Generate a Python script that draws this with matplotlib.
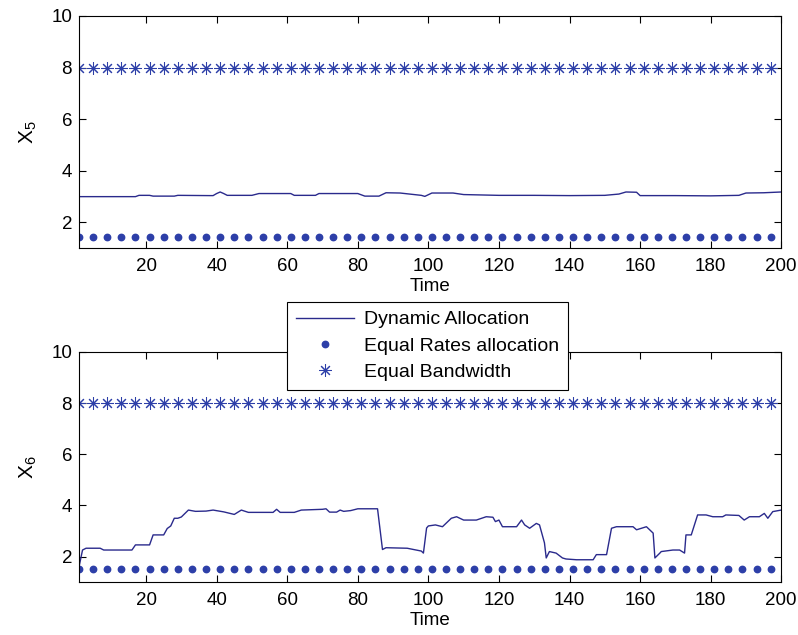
import numpy as np
import matplotlib
matplotlib.use('Agg')
import matplotlib.pyplot as plt

plt.rcParams['font.family'] = ['Liberation Sans', 'DejaVu Sans']
plt.rcParams['mathtext.fontset'] = 'custom'
plt.rcParams['mathtext.rm'] = 'Liberation Sans'

# marker positions (every 4th time step)
t_mark = np.arange(1, 200, 4)
equal_bw = 8.0
equal_rate_x5 = 1.43
equal_rate_x6 = 1.5

# dynamic allocation, X5
t5 = [1, 17, 18, 21, 22, 28, 29, 38, 39, 40, 41, 42, 43, 50, 52, 61, 62, 68, 69, 80,
      82, 86, 88, 92, 98, 99, 101, 107, 110, 120, 130, 140, 150, 154, 156, 159, 160,
      170, 180, 188, 190, 195, 200]
x5 = [3.00, 3.00, 3.05, 3.05, 3.02, 3.02, 3.05, 3.04, 3.04, 3.12, 3.18, 3.12, 3.05,
      3.05, 3.12, 3.12, 3.05, 3.05, 3.12, 3.12, 3.02, 3.02, 3.15, 3.14, 3.05, 3.01,
      3.14, 3.14, 3.08, 3.05, 3.05, 3.04, 3.05, 3.10, 3.18, 3.17, 3.04, 3.04, 3.03,
      3.05, 3.14, 3.15, 3.18]

# dynamic allocation, X6
t6 = [1, 2, 3, 7, 8, 16, 17, 21, 22, 25, 26, 27, 28, 29, 30, 32, 34, 37, 39, 42, 45,
      47, 49, 56, 57, 58, 62, 64, 70, 71, 72, 74, 75, 76, 78, 80, 85.6, 87, 88, 94,
      98, 98.6, 99.5, 100, 102, 104, 106.5, 108, 110, 113.6, 116.4, 118.3, 119, 120,
      121, 125, 126.4, 127.3, 128.7, 130.6, 131.5, 132.9, 133.4, 134.3, 136.2, 138,
      139, 142, 146.7, 147.6, 150.5, 151.9, 153.3, 158, 159, 161.8, 163.7, 164.2,
      165.6, 166, 169.3, 171.2, 172.6, 173, 174.5, 175.4, 176.3, 178.7, 180.6, 183.4,
      184.3, 188, 189.5, 191, 193.8, 195.2, 196.2, 197.6, 200]
x6 = [1.60, 2.26, 2.33, 2.33, 2.26, 2.26, 2.46, 2.46, 2.85, 2.85, 3.10, 3.20, 3.50,
      3.50, 3.55, 3.82, 3.77, 3.78, 3.82, 3.75, 3.65, 3.82, 3.73, 3.73, 3.85, 3.73,
      3.73, 3.82, 3.85, 3.87, 3.74, 3.74, 3.82, 3.77, 3.80, 3.87, 3.87, 2.28, 2.35,
      2.33, 2.22, 2.14, 3.12, 3.20, 3.24, 3.17, 3.50, 3.56, 3.43, 3.43, 3.56, 3.54,
      3.37, 3.43, 3.17, 3.17, 3.43, 3.24, 3.11, 3.30, 3.24, 2.54, 1.95, 2.20, 2.14,
      1.95, 1.91, 1.88, 1.88, 2.08, 2.08, 3.11, 3.17, 3.17, 3.05, 3.17, 2.92, 1.95,
      2.14, 2.20, 2.26, 2.26, 2.14, 2.85, 2.85, 3.24, 3.63, 3.63, 3.56, 3.56, 3.63,
      3.61, 3.43, 3.56, 3.56, 3.69, 3.50, 3.76, 3.82]

line_col = '#2a2a8c'
mark_col = '#2d3fa8'

fig = plt.figure(figsize=(7.98, 6.35), dpi=100)
ax1 = fig.add_axes([0.099, 0.609, 0.880, 0.366])
ax2 = fig.add_axes([0.099, 0.083, 0.880, 0.363])

star = (8, 2, 0)
for ax, t, x, er, lab in [(ax1, t5, x5, equal_rate_x5, '$\\mathregular{X_5}$'),
                          (ax2, t6, x6, equal_rate_x6, '$\\mathregular{X_6}$')]:
    ax.plot(t, x, color=line_col, lw=1.0, label='Dynamic Allocation')
    ax.plot(t_mark, np.full(len(t_mark), er), ls='none', marker='o', ms=4.6,
            color=mark_col, label='Equal Rates allocation')
    ax.plot(t_mark, np.full(len(t_mark), equal_bw), ls='none', marker=star, ms=9,
            mew=0.75, color=mark_col, label='Equal Bandwidth')
    ax.set_xlim(1, 200)
    ax.set_ylim(1, 10)
    ax.set_xticks(np.arange(20, 201, 20))
    ax.set_yticks([2, 4, 6, 8, 10])
    ax.tick_params(direction='in', top=True, right=True, labelsize=13.5, length=5,
                   width=0.8)
    ax.tick_params(axis='x', pad=7)
    ax.tick_params(axis='y', pad=5)
    for s in ax.spines.values():
        s.set_linewidth(0.8)
    ax.set_xlabel('Time', fontsize=13.5, labelpad=2)
    ax.set_ylabel(lab, fontsize=15, labelpad=9)

h, l = ax2.get_legend_handles_labels()
leg = fig.legend(h, l, loc='upper left', bbox_to_anchor=(287 / 798, 1 - 302 / 635),
                 fontsize=14, frameon=True, fancybox=False, framealpha=1,
                 edgecolor='black', handlelength=3.0, borderpad=0.45,
                 labelspacing=0.45, handletextpad=0.5, borderaxespad=0)
leg.get_frame().set_linewidth(0.8)

fig.savefig('out.png', dpi=100)
